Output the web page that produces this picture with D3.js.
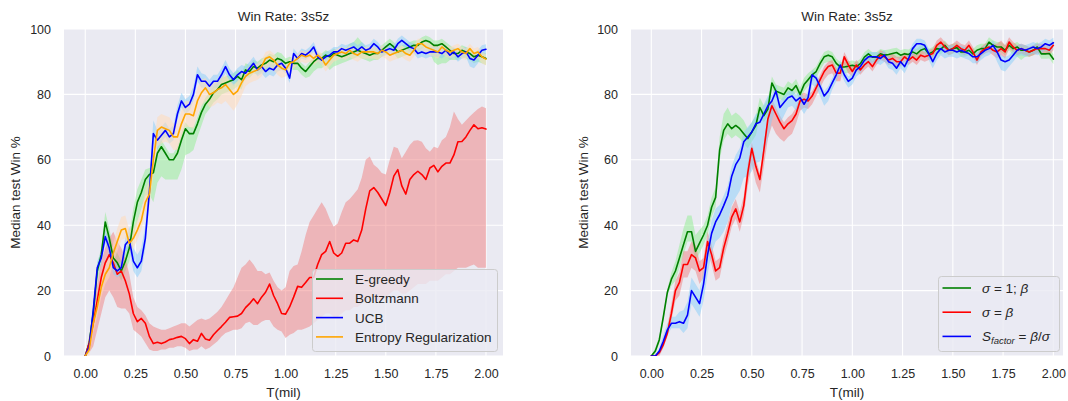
<!DOCTYPE html>
<html>
<head>
<meta charset="utf-8">
<script src="https://cdn.jsdelivr.net/npm/d3@7/dist/d3.min.js"></script>
<style>
  body { margin: 0; background: #ffffff; }
  svg { display: block; }
  text { font-family: "Liberation Sans", Arial, sans-serif; fill: #262626; }
</style>
</head>
<body>
<svg id="chart" width="1068" height="401"></svg>
<script>
// Training steps (millions), one evaluation every 0.02M steps
const tMil = d3.range(101).map(i => +(i * 0.02).toFixed(2));

const xTickValues = [0, 0.25, 0.5, 0.75, 1.0, 1.25, 1.5, 1.75, 2.0];
const yTickValues = [0, 20, 40, 60, 80, 100];

// ---- Left panel: exploration strategies (median win %, band offsets below / above) ----
const egreedyWin = [
  0,4,13,26,31,41,36,30,28.5,26,
  29,33,41,47,50,54,55.5,56,62,64,
  62,60,60,62,66,69.5,68,68,71,74.5,
  77,78.5,80.5,81.5,83,83.5,84,84.5,85.5,84.5,
  87.5,87,88.5,88,89,89.5,90.5,90,91,90.5,
  89.5,90,89.5,89.5,88,87,88.5,90,91,91,
  92,91.5,92.5,92,91.5,92,92.5,93,93.5,93,
  92.5,92,92.5,92.5,93.5,94.5,95.5,94.5,93,93.5,
  94,94.5,95,95,96,96.5,96,95,95,95.5,
  94.5,93.5,92.5,92.5,93.5,93,92.5,91.5,92,91.5,
  91];
const egreedyLo = [
  0,1,2,3,3,3,3,3,3,3,
  3,4,5,6,5,5,6,9,9,9,
  8,6,6,8,9,8,6,5,4,4,
  3,3,3,3,3,3,3,3,3,3,
  2,2,2,2,2,2,2,2,2,2,
  2,2,2,2,2,2,3,3,3,3,
  3,4,4,3,2,2,2,2,2,2,
  2,2,2,2,2,2,2,2,2,2,
  2,2,2,2,2,2,3,5,6,6,
  5,3,2,2,2,2,2,2,2,2,
  2];
const egreedyHi = [
  0,2,2,2,2,3,3,3,3,3,
  3,4,4,4,4,3,2,2,2,2,
  2,2,2,2,2,2,2,2,2,2,
  2,2,2,2,2,2,2,2,2,2,
  2,2,2,2,2,2,2,2,2,2,
  1.5,1.5,1.5,1.5,1.5,1.5,1.5,1.5,1.5,1.5,
  1.5,1.5,1.5,1.5,1.5,2,3,3,4,3,
  2,1.5,1.5,1.5,1.5,1.5,1.5,1.5,1.5,1.5,
  1.5,1.5,1.5,1.5,1.5,1.5,1.5,1.5,1.5,1.5,
  1.5,1.5,1.5,1.5,1.5,1.5,1.5,1.5,1.5,1.5,
  1.5];

const boltzmannWin = [
  0,4,10,17,24,28.5,31,28.5,25,26,
  23,19,13,10.5,11.5,10,6,3.8,4.2,3.8,
  4.3,5,5.3,5.7,6,5.3,3.8,5,4.5,6.9,
  5.2,4.8,6.5,7.8,9,10.3,11.8,12,12.2,13,
  14.8,16,17.5,16,18,19.5,22,18.5,16,13,
  12.8,15,18,21.3,21,22.5,24,24,28,31,
  32,35,31.5,30.5,31.5,34.5,34.5,35.5,35,38.5,
  45,50.5,51.5,50,48,46,50,55,57,52,
  49.5,54,55.5,56.5,55.5,54,57.5,58.3,56.3,58,
  59,59,61.5,65.5,65.6,67,69,70.7,69.5,69.8,
  69.4];
const boltzmannLow = [
  0,1,3,8,13,18,20,18,15,14.5,
  14.5,13,8,7,6,4,2,1.5,1.5,2,
  2,2.5,2.5,3,3,2.5,1.5,2,2,3,
  2,2.5,3.5,4.5,6,7,7.5,8,8,8.5,
  10,10.5,9.5,9.5,10.5,11,11,9,8,7.5,
  5.5,6.5,7,8,8,8.5,9,10,11,12,
  13,13,12,12,13,14,14,15,15,16,
  17,18,18,17,17,18,19,20,20,19,
  19,20,21,22,22,22,23,23,23,24,
  25,25,26,27,27,27,27.5,28,27,27,
  27];
const boltzmannHigh = [
  0,6,14,22,29,33,36,38,35,33,
  30,25,18,15,14,12.5,10,9,8.5,8,
  8,8.5,9,9.5,10,10,9,10,11,11.5,
  11,11.5,12.5,13.5,15,17,19,21,24,27,
  28,29.5,28,26,26,25,25.5,23,21,20,
  21,26,27.5,28,32,37,41,43,45,47,
  45,42,39.5,40.5,44,47,48,49.5,51,54.5,
  60,61,58.5,57.5,56,55.5,60,64,63.5,60.5,
  62.5,64.5,65.8,66,65.5,63.5,62.5,64,63.5,66,
  67,70,74.8,72.5,70.7,72,73.3,74.5,75.5,76.3,
  75.8];

const ucbWin = [
  0,3,14,27,30,36.5,33,27,26,27,
  34,35.5,29,27,29,36,50,68,66,67.5,
  69,67,68,74,78,76,77,80,86,84,
  84,82.5,84,84,86,88.5,86,84.5,86,87,
  86.5,88,89.5,87.5,88.5,87,88,87.5,89,89.5,
  88,85,92.5,91,92.5,92,93,94.5,91.5,90.5,
  91.5,92,93,93,94,93.5,94,94.5,93.5,94.5,
  93.5,94,95.5,94.5,93,93.5,94,93.5,95.5,96.5,
  95.5,94.5,94,92.5,93,92.5,93,93,93,92.5,
  93.5,92,93,91.5,92.5,93,91,90.5,92,93.5,
  93.8];
const ucbLo = [
  0,1,2,2,2,2,2,2,2,2,
  2,3,3,3,3,3,3,3,3,2,
  2,2,2,2,2,2,2,2,2,2,
  2,2,2,2,2,2,2,2,2,2,
  2,2,2,2,2,2,2,2,2,2,
  1.5,1.5,1.5,1.5,1.5,1.5,1.5,1.5,1.5,1.5,
  1.5,1.5,1.5,1.5,1.5,1.5,1.5,1.5,1.5,1.5,
  1.5,1.5,1.5,1.5,1.5,1.5,1.5,1.5,1.5,1.5,
  1.5,1.5,1.5,1.5,1.5,1.5,1.5,1.5,1.5,1.5,
  1.5,1.5,1.5,1.5,1.5,1.5,2.5,2.5,2.5,1.5,
  1.5];
const ucbHi = [
  0,2,2,2,2,2,2,2,2,2,
  2,4,4,4,4,4,4,4,3,2.5,
  2.5,2.5,2.5,2.5,2.5,2.5,2.5,2.5,2.5,2.5,
  2,2,2,2,2,2,2,2,2,2,
  2,2,2,2,2,1.5,1.5,1.5,1.5,1.5,
  1.5,1.5,1.5,1.5,1.5,1.5,1.5,1.5,1.5,1.5,
  1.5,1.5,1.5,1.5,1.5,1.5,1.5,1.5,1.5,1.5,
  1.5,1.5,1.5,1.5,1.5,1.5,1.5,1.5,1.5,1.5,
  1.5,1.5,1.5,1.5,1.5,1.5,1.5,1.5,1.5,1.5,
  1.5,1.5,1.5,1.5,1.5,1.5,1.5,1.5,1.5,1.5,
  1.5];

const entropyWin = [
  0,2,10,15,21,25,27,31.5,35,38.5,
  39,34.5,36,38.5,41.5,47,49.5,60,69,70,
  69.5,69,67,67,71,74,74,73.5,78,80.5,
  82,80,80.5,81.5,82,83,81.5,80,81,83.5,
  85.5,86.5,87,87.5,88.5,91,91.5,90.5,89,88,
  87.5,89.5,90,91,92,91.5,92,91,92,91,
  89,90.5,92,92.5,93,92.5,93.5,92.5,92,93,
  93,93,93,92.5,93.5,93,92,92.5,93,93.5,
  92.5,92,93.5,95.5,95.5,94.5,94,93.5,93,94.5,
  93.5,93,93.5,94,93,92.5,94,92.5,93,91.5,
  90.8];
const entropyLo = [
  0,2,3,3,3,3,3,3,3,3,
  3,3,3,3,3,3,4,5,5,5,
  4,4,4,4,4,4,4,4,4,4,
  4,4,4,4,5,5,5,5,4,4,
  3,3,3,3,3,3,3,3,3,3,
  2,2,2,2,2,2,2,2,2,2,
  2,2,2,2,2,2,2,2,2,2,
  2,2,2,2,2,2,2,2,2,2,
  2,2,2,2,2,2,2,2,2,2,
  2,2,2,2,2,2,2,2,2,2,
  2];
const entropyHi = [
  0,2,3,3,3,3,3,3,4,4,
  4,4,3,3,3,4,4,4,4,4,
  4,4,4,4,4,4,4,4,4,4,
  3,3,3,3,3,3,3,3,3,3,
  2,2,2,2,2,2,2,2,2,2,
  1.5,1.5,1.5,1.5,1.5,1.5,1.5,1.5,1.5,1.5,
  1.5,1.5,1.5,1.5,1.5,1.5,1.5,1.5,1.5,1.5,
  1.5,1.5,1.5,1.5,1.5,1.5,1.5,1.5,1.5,1.5,
  1.5,1.5,1.5,1.5,1.5,1.5,1.5,1.5,1.5,1.5,
  1.5,1.5,1.5,1.5,1.5,1.5,1.5,1.5,1.5,1.5,
  1.5];

// ---- Right panel: scaling variants ----
const sigmaOneWin = [
  0,1.5,5,12,19.5,23.5,26,30,34,38,
  38,32,34.5,37,40,45.5,48.5,63,69,71,
  69.5,70.5,69.5,68,66.5,68.5,70.5,76,73.5,75.5,
  83.5,81,80.5,80,82,81.2,82.7,80,83,84.5,
  86,87,89.5,91.5,92,91.5,89.5,88.4,88.4,88.6,
  88.9,88.5,89.4,91.4,92.4,91.4,91.4,92.4,92,92.2,
  92.5,92.8,92,92.4,92.2,93,92.4,93.5,94,92.4,
  93,94,93.8,95,93.5,94,94.3,93,93,93.5,
  92.4,93.5,94,94,96,95,94.5,94.5,93.5,95,
  94,94.5,93.5,93.5,93,93.5,94.5,92.4,92.4,92.5,
  90.8];
const sigmaOneLo = [
  0,1,1,1,1,2,3,3,3,3,
  3,3,3,3,3,3,3,3,3,3,
  3,3,3,3,3,3,3,3,2,2,
  2,2,2,2,2,2,2,2,2,2,
  2,2,2,2,2,2,2,2,2,2,
  1.5,1.5,1.5,1.5,1.5,1.5,1.5,1.5,1.5,1.5,
  1.5,1.5,1.5,1.5,1.5,1.5,1.5,1.5,1.5,1.5,
  1.5,1.5,1.5,1.5,1.5,1.5,1.5,1.5,1.5,1.5,
  1.5,1.5,1.5,1.5,1.5,1.5,1.5,1.5,1.5,1.5,
  2,3,3,2,1.5,1.5,1.5,1.5,1.5,1.5,
  1.5];
const sigmaOneHi = [
  0,1,1,1,1,2,3,4,5,5,
  5,5,4,3,3,3,3,4,5,5,
  4,4,4,4,3,3,3,3,3,3,
  2,2,2,2,2,2,2,2,2,2,
  1.5,1.5,1.5,1.5,1.5,1.5,1.5,1.5,1.5,1.5,
  1.5,1.5,1.5,1.5,1.5,1.5,1.5,1.5,1.5,1.5,
  1.5,1.5,1.5,1.5,1.5,1.5,1.5,1.5,1.5,1.5,
  1.5,1.5,1.5,1.5,1.5,1.5,1.5,1.5,1.5,1.5,
  1.5,1.5,1.5,1.5,1.5,1.5,1.5,1.5,1.5,1.5,
  1.5,1.5,1.5,1.5,1.5,1.5,1.5,1.5,1.5,1.5,
  1.5];

const sigmaBetaWin = [
  0,0,1,3.5,7,13,20,22.5,28,28,
  31,30,26,27,35,31,26,27,33,37.5,
  42.5,45,41,46,56,63.5,58,54,63,72.5,
  76.5,74,71.5,69.5,71,72,74,78,78.5,78,
  79.5,82,84.5,87,88.5,89,86.5,86.5,91.5,89,
  87,89,87.5,89,90,88.5,90.5,92,91.5,90.5,
  91,90,90,91.5,90.5,91.5,90.5,92,91.5,92,
  92.5,95,96,94.5,93.5,94,95,94,93.5,95,
  93,90.5,93,94,94.5,93.5,93,94,93,96,
  94.5,93.5,94,93.5,93,93.5,94,94,94,93.5,
  95];
const sigmaBetaLo = [
  0,0,1,1,1,2,3,4,4,4,
  4,4,4,3,3,3,3,3,3,3,
  3,3,3,3,4,5,5,4,5,6,
  6,6,5,4,4,4,3,3,2.5,2.5,
  2.5,2.5,2.5,2.5,2.5,2.5,2.5,2.5,2.5,2.5,
  1.5,1.5,1.5,1.5,1.5,1.5,1.5,1.5,1.5,1.5,
  1.5,1.5,1.5,1.5,1.5,1.5,1.5,1.5,1.5,1.5,
  1.5,1.5,1.5,1.5,1.5,1.5,1.5,1.5,1.5,1.5,
  1.5,1.5,1.5,1.5,1.5,1.5,2,2,2,2,
  1.5,1.5,1.5,1.5,1.5,1.5,1.5,1.5,1.5,1.5,
  1.5];
const sigmaBetaHi = [
  0,0,1,1,2,3,3,3,4,4,
  4,4,3,3,3,3,3,3,3,3,
  3,3,3,3,3,2,2,2,2,2,
  2,2,2,2,2,2,2,2,2,2,
  1.5,1.5,1.5,1.5,1.5,1.5,1.5,1.5,1.5,1.5,
  1.5,1.5,1.5,1.5,1.5,1.5,1.5,1.5,1.5,1.5,
  1.5,1.5,1.5,1.5,1.5,1.5,1.5,1.5,1.5,1.5,
  1.5,1.5,1.5,1.5,1.5,1.5,1.5,1.5,1.5,1.5,
  1.5,1.5,1.5,1.5,1.5,2,2.5,2.5,2,1.5,
  1.5,1.5,1.5,1.5,1.5,1.5,1.5,1.5,1.5,1.5,
  1.5];

const sFactorWin = [
  0,0,1.5,4.5,8,10,10,10.5,10,12.5,
  20,18,16,22,31,37.5,41,43.2,46,49,
  55,58.5,60.5,65.5,67,68.5,71,71.5,74,76.5,
  78,81,76,77.5,79,79.5,78,79,77,79,
  86,85,82.4,79.5,81,83.5,86,89,86,84,
  85,87.5,88.5,90.4,91.5,91.5,91.5,91,92,90,
  89.5,88,90,88.5,91,94,95.5,95.5,95,92.5,
  90,92.5,94,93,93.5,93.5,93,93.5,93,92.5,
  91.5,91.5,92.5,93.5,94,95,93,90.5,90,90.5,
  92,93.5,94,93.5,94,94.5,94,94.5,95.5,95,
  95.8];
const sFactorLo = [
  0,0,1,1.5,1.5,1.5,1.5,2,3,4,
  4,4,4,5,6,6,6,7,8,8,
  9,10,10,11,12,12,12,12,12,10,
  6,5,5,4,3,3,3,3,3,3,
  3,3,3,3,3,2,2,2,2,2,
  2,2,2,2,2,2,2,2,2,2,
  2,2,2,2,2,2,2,2,2,2,
  2,2,2,2,2,2,2,2,2,2,
  2,2,2,2,2,2,3,3,3,2,
  2,2,2,2,2,2,2,2,2,2,
  2];
const sFactorHi = [
  0,0,1,2,2,2,2,3,4,4,
  4,4,4,4,4,4,4,3,3,3,
  3,3,3,3,3,3,3,3,3,3,
  2,2,2,2,2,2,2,2,2,2,
  1.5,1.5,1.5,1.5,1.5,1.5,1.5,1.5,1.5,1.5,
  1.5,1.5,1.5,1.5,1.5,1.5,1.5,1.5,1.5,1.5,
  1.5,1.5,1.5,1.5,1.5,1.5,1.5,1.5,1.5,1.5,
  1.5,1.5,1.5,1.5,1.5,1.5,1.5,1.5,1.5,1.5,
  1.5,1.5,1.5,1.5,1.5,1.5,1.5,1.5,1.5,1.5,
  1.5,1.5,1.5,1.5,1.5,1.5,1.5,1.5,1.5,1.5,
  1.5];

// Series definitions: band bounds are built from the median and its offsets
const withOffsets = (med, lo, hi) => tMil.map((t, i) => ({ t, v: med[i], lo: med[i] - lo[i], hi: med[i] + hi[i] }));
const withBounds = (med, lo, hi) => tMil.map((t, i) => ({ t, v: med[i], lo: lo[i], hi: hi[i] }));

const leftSeries = [
  { label: [["E-greedy"]], line: "#008000", band: "#90ee90", bandOpacity: 0.5, data: withOffsets(egreedyWin, egreedyLo, egreedyHi) },
  { label: [["Boltzmann"]], line: "#ff0000", band: "#f08080", bandOpacity: 0.5, data: withBounds(boltzmannWin, boltzmannLow, boltzmannHigh) },
  { label: [["UCB"]], line: "#0000ff", band: "#87cefa", bandOpacity: 0.5, data: withOffsets(ucbWin, ucbLo, ucbHi) },
  { label: [["Entropy Regularization"]], line: "#ffa500", band: "#ffdab9", bandOpacity: 0.55, data: withOffsets(entropyWin, entropyLo, entropyHi) }
];

const rightSeries = [
  { label: [["σ", "i"], [" = 1; "], ["β", "i"]], line: "#008000", band: "#90ee90", bandOpacity: 0.5, data: withOffsets(sigmaOneWin, sigmaOneLo, sigmaOneHi) },
  { label: [["σ", "i"], [" = "], ["β", "i"]], line: "#ff0000", band: "#f08080", bandOpacity: 0.5, data: withOffsets(sigmaBetaWin, sigmaBetaLo, sigmaBetaHi) },
  { label: [["S", "i"], ["factor", "sub"], [" = "], ["β", "i"], ["/"], ["σ", "i"]], line: "#0000ff", band: "#87cefa", bandOpacity: 0.5, data: withOffsets(sFactorWin, sFactorLo, sFactorHi) }
];

const panels = [
  { id: "l", left: 64, right: 503, top: 29, bottom: 356, xDomain: [-0.106, 2.085], ylabelX: 15,
    series: leftSeries,
    legend: { w: 185, h: 82, inset: 6, first: 10, step: 19.3, lineX0: 4, lineX1: 31, textX: 43, math: false } },
  { id: "r", left: 631, right: 1063, top: 29, bottom: 356, xDomain: [-0.101, 2.048], ylabelX: 583,
    series: rightSeries,
    legend: { w: 121, h: 75, inset: 4, first: 12, step: 24.2, lineX0: 4.5, lineX1: 33, textX: 44, math: true } }
];

const svg = d3.select("#chart");
const defs = svg.append("defs");

panels.forEach(p => {
  const x = d3.scaleLinear().domain(p.xDomain).range([p.left, p.right]);
  const y = d3.scaleLinear().domain([0, 100]).range([p.bottom, p.top]);
  const g = svg.append("g");

  // axes background
  g.append("rect").attr("x", p.left).attr("y", p.top)
    .attr("width", p.right - p.left).attr("height", p.bottom - p.top).attr("fill", "#eaeaf2");

  // grid
  g.append("g").selectAll("line").data(xTickValues).join("line")
    .attr("x1", d => x(d)).attr("x2", d => x(d)).attr("y1", p.top).attr("y2", p.bottom)
    .attr("stroke", "#ffffff").attr("stroke-width", 1.1);
  g.append("g").selectAll("line").data(yTickValues).join("line")
    .attr("x1", p.left).attr("x2", p.right).attr("y1", d => y(d)).attr("y2", d => y(d))
    .attr("stroke", "#ffffff").attr("stroke-width", 1.1);

  // tick labels via d3 axes (no tick marks, no domain line)
  const xAxis = d3.axisBottom(x).tickValues(xTickValues).tickFormat(d3.format(".2f")).tickSize(0).tickPadding(13);
  const gx = g.append("g").attr("transform", `translate(0,${p.bottom})`).call(xAxis);
  gx.select(".domain").remove();
  gx.selectAll("text").attr("font-size", 12.5).attr("fill", "#262626").attr("font-family", "Liberation Sans, Arial, sans-serif");

  const yAxis = d3.axisLeft(y).tickValues(yTickValues).tickFormat(d3.format("d")).tickSize(0).tickPadding(13);
  const gy = g.append("g").attr("transform", `translate(${p.left},0)`).call(yAxis);
  gy.select(".domain").remove();
  gy.selectAll("text").attr("font-size", 12.5).attr("fill", "#262626").attr("font-family", "Liberation Sans, Arial, sans-serif");

  // clip
  const clipId = "clip-" + p.id;
  defs.append("clipPath").attr("id", clipId).append("rect")
    .attr("x", p.left).attr("y", p.top).attr("width", p.right - p.left).attr("height", p.bottom - p.top);
  const plot = g.append("g").attr("clip-path", `url(#${clipId})`);

  const area = d3.area().x(d => x(d.t)).y0(d => y(d.lo)).y1(d => y(d.hi));
  const line = d3.line().x(d => x(d.t)).y(d => y(d.v));

  p.series.forEach(s => {
    plot.append("path").attr("d", area(s.data))
      .attr("fill", s.band).attr("fill-opacity", s.bandOpacity).attr("stroke", "none");
  });
  p.series.forEach(s => {
    plot.append("path").attr("d", line(s.data))
      .attr("fill", "none").attr("stroke", s.line).attr("stroke-width", 1.6)
      .attr("stroke-linejoin", "round").attr("stroke-linecap", "round");
  });

  // title and axis labels
  const cx = (p.left + p.right) / 2;
  g.append("text").attr("x", cx).attr("y", 20.5).attr("text-anchor", "middle")
    .attr("font-size", 13.5).text("Win Rate: 3s5z");
  g.append("text").attr("x", cx).attr("y", 396.5).attr("text-anchor", "middle")
    .attr("font-size", 13.5).text("T(mil)");
  g.append("text").attr("transform", `translate(${p.ylabelX},${(p.top + p.bottom) / 2}) rotate(-90)`)
    .attr("text-anchor", "middle").attr("dominant-baseline", "central")
    .attr("font-size", 13.5).text("Median test Win %");

  // legend (lower right)
  const L = p.legend;
  const lx = p.right - L.inset - L.w, ly = p.bottom - 5 - L.h;
  const lg = g.append("g").attr("transform", `translate(${lx},${ly})`);
  lg.append("rect").attr("x", 0.5).attr("y", 0.5).attr("width", L.w).attr("height", L.h)
    .attr("rx", 3).attr("fill", "#eaeaf2").attr("fill-opacity", 0.8)
    .attr("stroke", "#cccccc").attr("stroke-width", 1);
  p.series.forEach((s, i) => {
    const ry = L.first + i * L.step;
    lg.append("line").attr("x1", L.lineX0).attr("x2", L.lineX1).attr("y1", ry).attr("y2", ry)
      .attr("stroke", s.line).attr("stroke-width", 1.6);
    const t = lg.append("text").attr("x", L.textX).attr("y", ry)
      .attr("dominant-baseline", "central").attr("font-size", L.math ? 13.5 : 13.5);
    if (L.math) t.attr("font-family", "DejaVu Sans, sans-serif");
    let shifted = false;
    s.label.forEach(part => {
      const ts = t.append("tspan").text(part[0]);
      if (part[1] === "i") ts.attr("font-style", "italic");
      if (part[1] === "sub") {
        ts.attr("font-style", "italic").attr("font-size", 9.5).attr("dy", 3.5);
        shifted = true;
      } else if (shifted) {
        ts.attr("dy", -3.5);
        shifted = false;
      }
    });
  });
});
</script>
</body>
</html>
